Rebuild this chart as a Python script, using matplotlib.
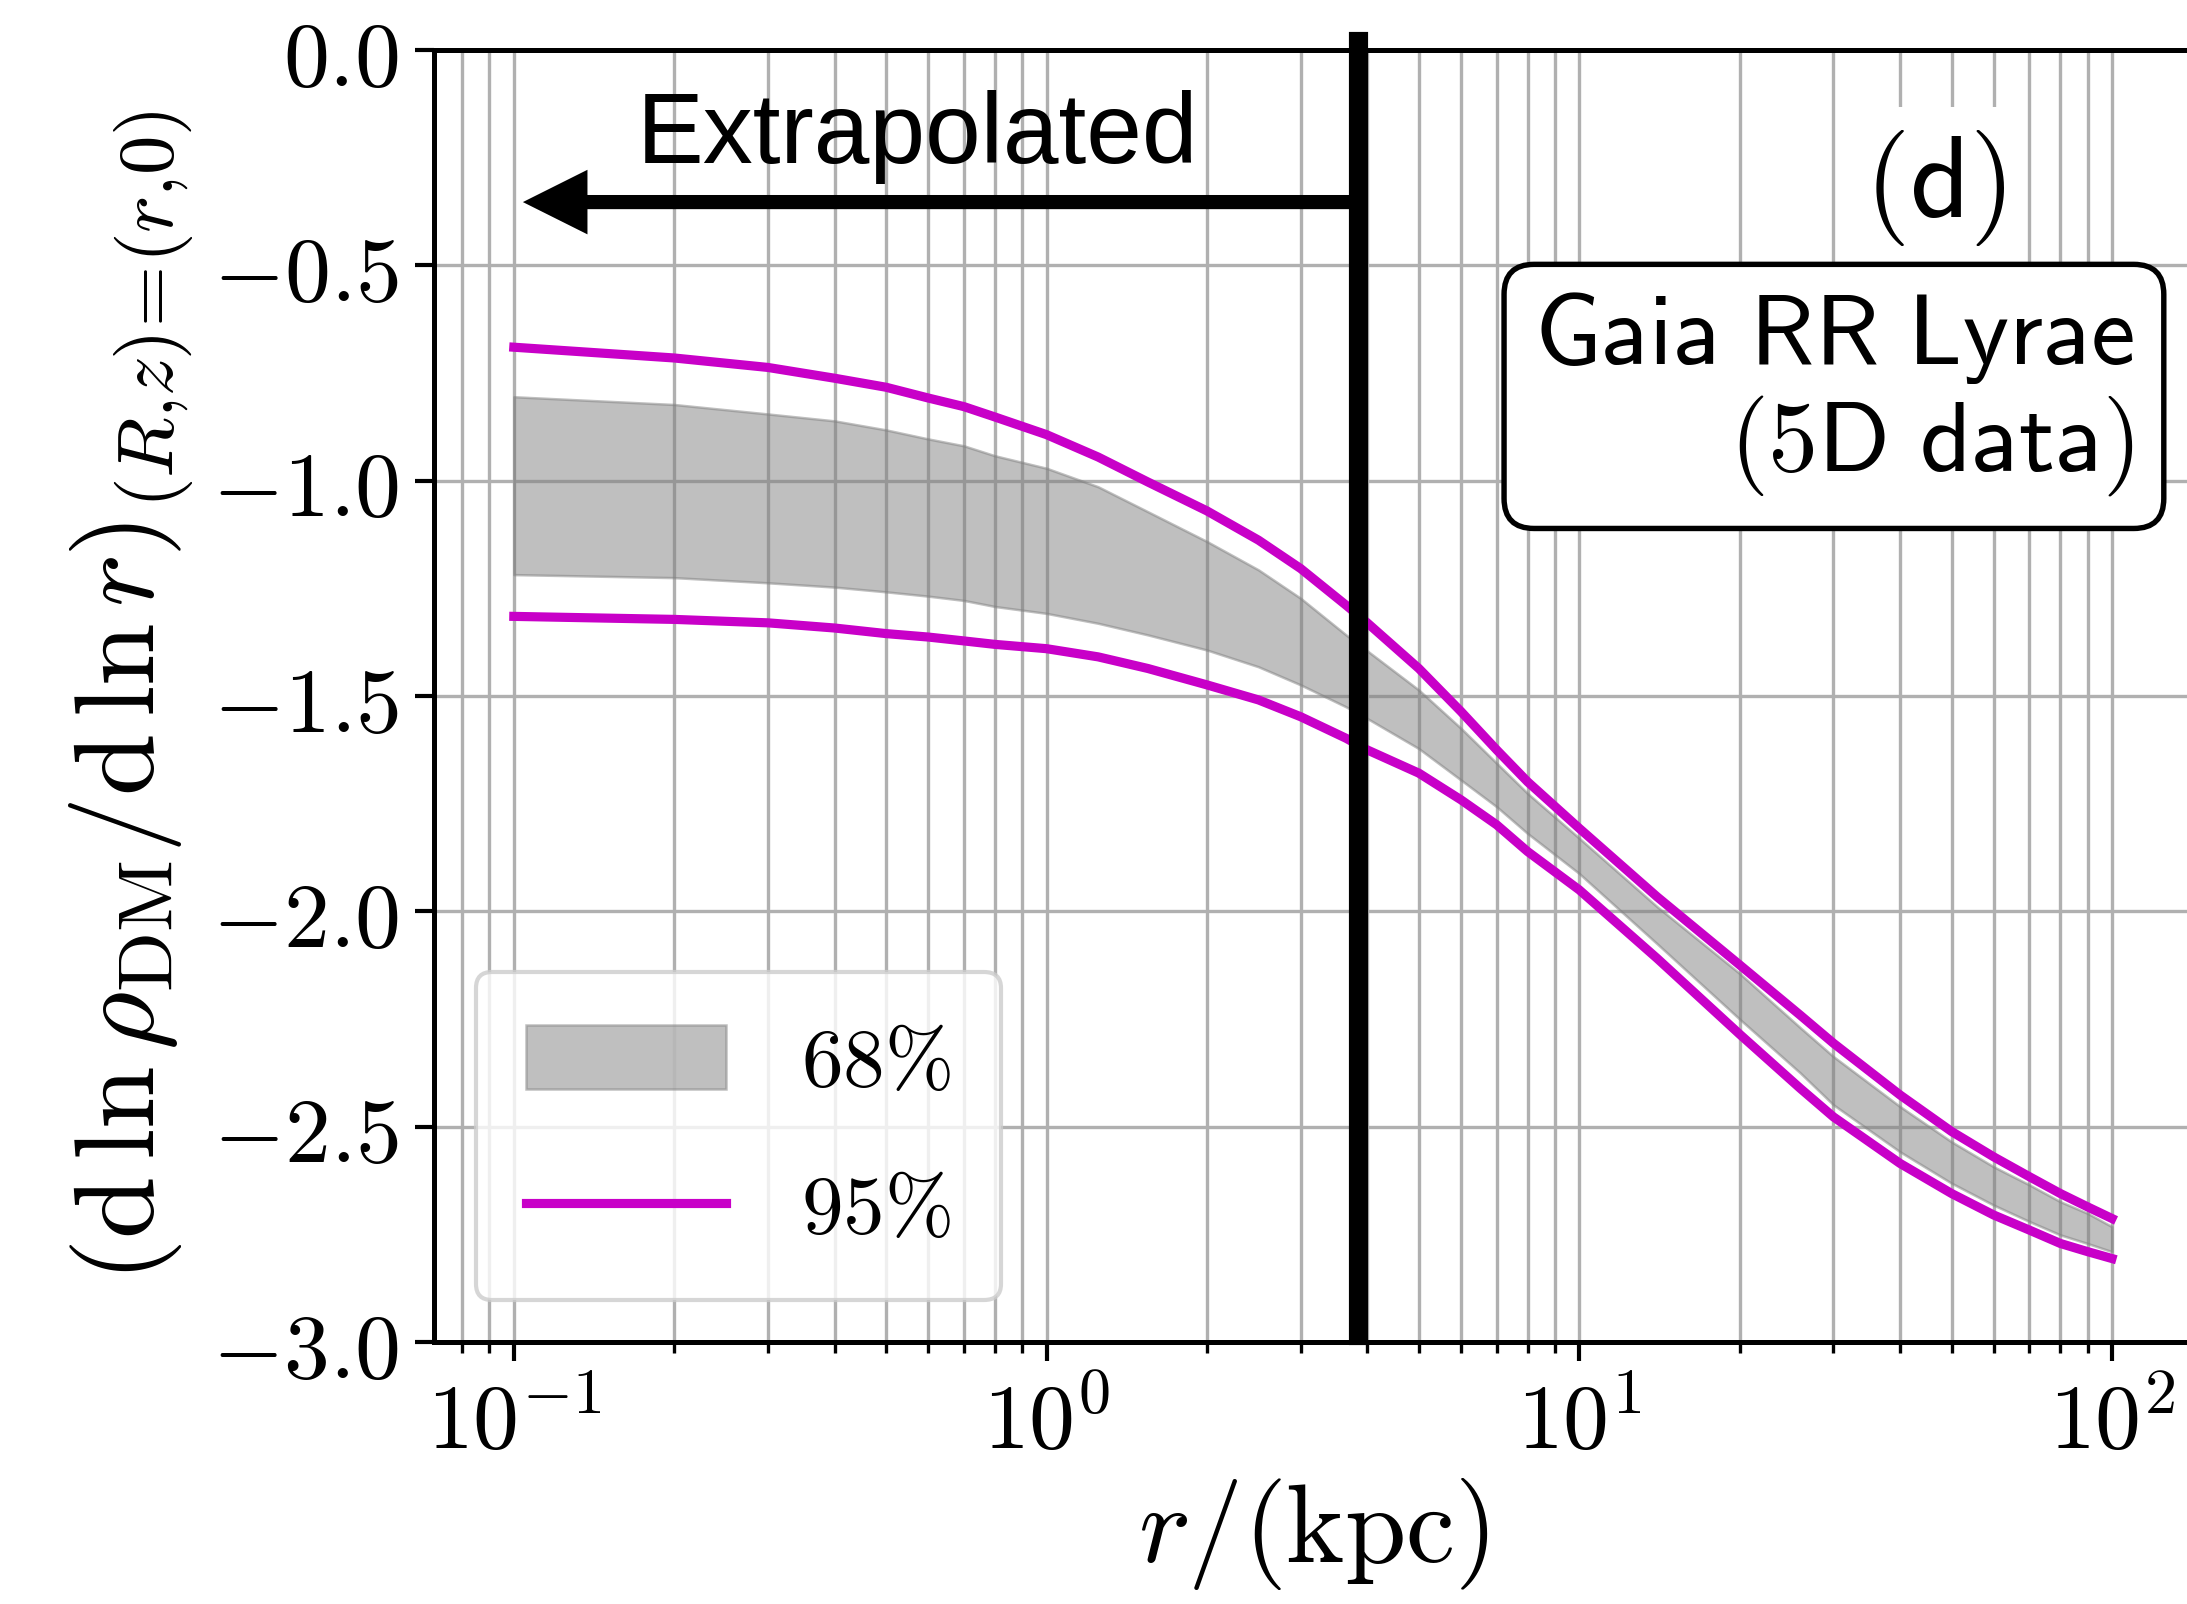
import numpy as np
import matplotlib
matplotlib.use('Agg')
import matplotlib.pyplot as plt
from matplotlib.ticker import FuncFormatter, LogLocator, MultipleLocator

plt.rcParams['mathtext.fontset'] = 'cm'

# radii (kpc) and the slope bands read at those radii
r_kpc = [0.1, 0.2, 0.3, 0.4, 0.5, 0.6, 0.7, 0.8, 1.0, 1.25, 1.55, 2.0, 2.5, 3.0, 3.65, 4.0,
         5.0, 6.0, 7.0, 8.0, 10.0, 14.0, 20.0, 26.0, 30.0, 40.0, 50.0, 60.0, 70.0, 80.0,
         90.0, 100.0]
hi95 = [-0.690, -0.715, -0.737, -0.762, -0.783, -0.808, -0.828, -0.852, -0.893, -0.945,
        -1.003, -1.070, -1.138, -1.204, -1.289, -1.330, -1.436, -1.536, -1.625, -1.699,
        -1.807, -1.966, -2.124, -2.241, -2.306, -2.426, -2.511, -2.570, -2.616, -2.655,
        -2.686, -2.713]
lo95 = [-1.315, -1.322, -1.330, -1.342, -1.355, -1.363, -1.372, -1.380, -1.390, -1.409,
        -1.436, -1.474, -1.509, -1.548, -1.598, -1.625, -1.679, -1.741, -1.799, -1.861,
        -1.950, -2.109, -2.285, -2.411, -2.477, -2.585, -2.655, -2.705, -2.740, -2.771,
        -2.790, -2.806]
hi68 = [-0.805, -0.823, -0.845, -0.861, -0.882, -0.903, -0.919, -0.942, -0.971, -1.014,
        -1.072, -1.141, -1.207, -1.273, -1.358, -1.395, -1.486, -1.575, -1.656, -1.726,
        -1.830, -1.989, -2.144, -2.270, -2.337, -2.453, -2.535, -2.593, -2.635, -2.674,
        -2.701, -2.732]
lo68 = [-1.218, -1.225, -1.237, -1.247, -1.258, -1.268, -1.278, -1.292, -1.308, -1.331,
        -1.358, -1.393, -1.432, -1.474, -1.525, -1.552, -1.622, -1.695, -1.757, -1.819,
        -1.912, -2.075, -2.250, -2.375, -2.449, -2.558, -2.631, -2.682, -2.720, -2.751,
        -2.771, -2.790]

r_cut = 3.85          # edge of the data coverage
labels = [r'$68\%$', r'$95\%$']

fig = plt.figure(figsize=(2187 / 300, 1604 / 300), dpi=300)
ax = fig.add_axes([0.1984, 0.1633, 0.8038, 0.8055])

ax.fill_between(r_kpc, lo68, hi68, color='gray', alpha=0.5, lw=0.6, label=labels[0])
ax.plot(r_kpc, hi95, color='#c800c8', lw=2.2, label=labels[1])
ax.plot(r_kpc, lo95, color='#c800c8', lw=2.2)

ax.set_xscale('log')
ax.set_xlim(10 ** -1.15, 10 ** 2.15)
ax.set_ylim(-3.0, 0.0)
ax.yaxis.set_major_locator(MultipleLocator(0.5))
ax.xaxis.set_major_locator(LogLocator(base=10))
ax.xaxis.set_minor_locator(LogLocator(base=10, subs=np.arange(2, 10)))
ax.xaxis.set_major_formatter(FuncFormatter(lambda v, p: r'$10^{%d}$' % round(np.log10(v))))
ax.xaxis.set_minor_formatter(FuncFormatter(lambda v, p: ''))
ax.yaxis.set_major_formatter(FuncFormatter(lambda v, p: r'$%.1f$' % v))

ax.set_axisbelow(True)
ax.grid(True, which='both', axis='x', color='#b0b0b0', lw=0.8)
ax.grid(True, which='major', axis='y', color='#b0b0b0', lw=0.8)
ax.tick_params(which='major', direction='out', length=4.5, width=1.0, labelsize=22, pad=4)
ax.tick_params(which='minor', direction='out', length=2.6, width=0.8)
for s in ax.spines.values():
    s.set_linewidth(1.2)

ax.set_xlabel(r'$r/(\mathrm{kpc})$', fontsize=26.5, labelpad=2)
ax.set_ylabel(r'$\left(\mathrm{d}\,\ln\rho_{\rm DM}/\mathrm{d}\,\ln r\right)_{(R{,}z)\!=\!(r{,}0)}$',
              fontsize=27, labelpad=4)

# extrapolation marker
ax.plot([r_cut, r_cut], [-2.983, 0.021], color='k', lw=4.6, clip_on=False, zorder=5)
ax.annotate('', xy=(0.104, -0.353), xytext=(r_cut, -0.353),
            arrowprops=dict(width=3.4, headwidth=15.5, headlength=15.5,
                            facecolor='k', edgecolor='k', lw=0, shrink=0))
ax.text(0.170, -0.262, 'Extrapolated', fontsize=24, family='Liberation Sans',
        va='baseline', ha='left')

ax.text(0.854, 0.893, r'$\mathsf{(d)}$', transform=ax.transAxes, fontsize=28,
        ha='center', va='center',
        bbox=dict(facecolor='white', edgecolor='none', pad=5))
ax.text(0.967, 0.734, '$\\mathsf{Gaia\\ RR\\ Lyrae}$\n$\\mathsf{(5D\\ data)}$',
        transform=ax.transAxes, fontsize=24, ha='right', va='center',
        multialignment='right', linespacing=1.1,
        bbox=dict(boxstyle='round,pad=0.3', facecolor='white', edgecolor='k', lw=1.3))

ax.legend(loc='lower left', fontsize=20, handlelength=2.4, handleheight=0.8,
          labelspacing=0.8, borderpad=0.6, handletextpad=0.9)

fig.savefig('out.png', dpi=300)
